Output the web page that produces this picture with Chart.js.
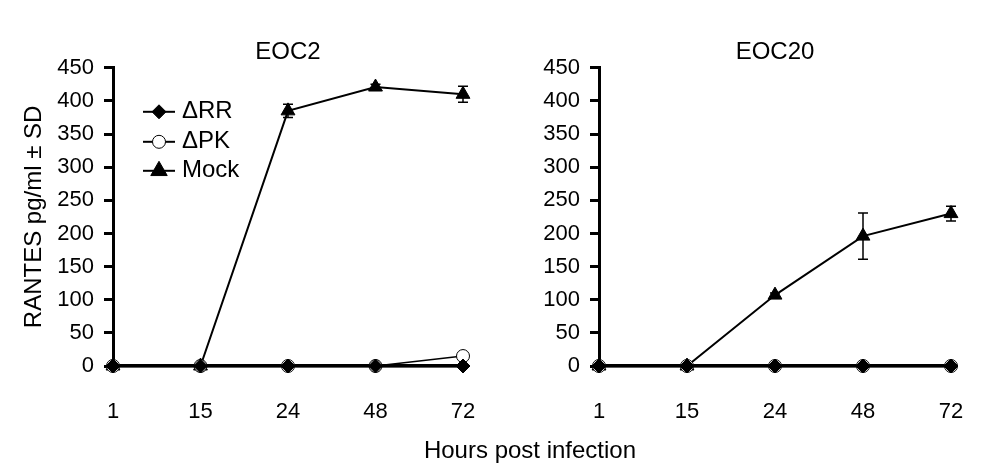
<!DOCTYPE html>
<html>
<head>
<meta charset="utf-8">
<script src="https://cdn.jsdelivr.net/npm/chart.js@4.4.0/dist/chart.umd.min.js"></script>
<style>
html,body{margin:0;padding:0;background:#fff;}
#wrap{position:relative;width:1008px;height:476px;overflow:hidden;background:#fff;}
.box{position:absolute;top:0;width:504px;height:476px;}
#xtitle{position:absolute;left:330px;width:400px;top:436px;height:28px;line-height:28px;text-align:center;
  font-family:"Liberation Sans",Arial,sans-serif;font-size:24px;color:#000;}
</style>
</head>
<body>
<div id="wrap">
  <div class="box" style="left:0"><canvas id="c1"></canvas></div>
  <div class="box" style="left:504px"><canvas id="c2"></canvas></div>
  <div id="xtitle">Hours post infection</div>
</div>
<script>
// ---- data ----
const hours = ['1', '15', '24', '48', '72'];
const yMin = 0, yMax = 450, yStep = 50;
const seriesNames = ['\u0394RR', '\u0394PK', 'Mock'];

const eoc2RR = [0, 0, 0, 0, 0];
const eoc2PK = [0, 0, 0, 0, 15];
const eoc2Mock = [0, 0, 385, 421, 410];
const eoc2MockSD = [0, 0, 10, 4, 12];

const eoc20RR = [0, 0, 0, 0, 0];
const eoc20PK = [0, 0, 0, 0, 0];
const eoc20Mock = [0, 0, 107, 196, 230];
const eoc20MockSD = [0, 0, 3, 35, 11];

Chart.defaults.font.family = '"Liberation Sans", Arial, sans-serif';
Chart.defaults.color = '#000';

const styles = [
  {pointStyle: 'rectRot', pointRadius: 7, pointBackgroundColor: '#000', borderWidth: 2.5},
  {pointStyle: 'circle', pointRadius: 6.5, pointBackgroundColor: '#fff', borderWidth: 1.5},
  {pointStyle: 'triangle', pointRadius: 8, pointBackgroundColor: '#000', borderWidth: 2}
];

function makeDatasets(rr, pk, mock, sd) {
  const vals = [rr, pk, mock];
  return vals.map((v, i) => Object.assign({
    label: seriesNames[i],
    data: v,
    borderColor: '#000',
    pointBorderColor: '#000',
    pointBorderWidth: 1,
    pointHoverRadius: styles[i].pointRadius,
    tension: 0,
    clip: false,
    errorBars: i === 2 ? sd : null
  }, styles[i]));
}

const errorBarPlugin = {
  id: 'errorBars',
  afterDatasetsDraw(chart) {
    const ctx = chart.ctx;
    const y = chart.scales.y;
    chart.data.datasets.forEach((ds, di) => {
      if (!ds.errorBars) return;
      const meta = chart.getDatasetMeta(di);
      meta.data.forEach((pt, i) => {
        const e = ds.errorBars[i];
        if (!e) return;
        const v = ds.data[i];
        const yt = y.getPixelForValue(v + e);
        const yb = y.getPixelForValue(v - e);
        ctx.save();
        ctx.strokeStyle = '#000';
        ctx.lineWidth = 1.5;
        ctx.beginPath();
        ctx.moveTo(pt.x, yt); ctx.lineTo(pt.x, yb);
        ctx.moveTo(pt.x - 5, yt); ctx.lineTo(pt.x + 5, yt);
        ctx.moveTo(pt.x - 5, yb); ctx.lineTo(pt.x + 5, yb);
        ctx.stroke();
        ctx.restore();
      });
    });
  }
};

const insideLegendPlugin = {
  id: 'insideLegend',
  afterDraw(chart, args, opts) {
    if (!opts || !opts.show) return;
    const ctx = chart.ctx;
    const ca = chart.chartArea;
    const x0 = ca.left + 30, lineW = 32;
    const rows = [44, 74, 103];
    chart.data.datasets.forEach((ds, i) => {
      const yy = ca.top + rows[i];
      ctx.save();
      ctx.strokeStyle = '#000';
      ctx.lineWidth = 2;
      ctx.beginPath();
      ctx.moveTo(x0, yy); ctx.lineTo(x0 + lineW, yy);
      ctx.stroke();
      ctx.fillStyle = ds.pointBackgroundColor;
      ctx.strokeStyle = '#000';
      ctx.lineWidth = 1;
      Chart.helpers.drawPoint(ctx, {pointStyle: ds.pointStyle, radius: i === 2 ? 9.5 : ds.pointRadius, rotation: 0, borderWidth: 1}, x0 + lineW / 2, yy);
      ctx.fillStyle = '#000';
      ctx.font = '24px "Liberation Sans", Arial, sans-serif';
      ctx.textBaseline = 'middle';
      ctx.textAlign = 'left';
      ctx.fillText(ds.label, x0 + lineW + 7, yy);
      ctx.restore();
    });
  }
};

function makeChart(id, title, datasets, yAxisW, padRight, showYTitle, showLegend) {
  return new Chart(document.getElementById(id), {
    type: 'line',
    data: {labels: hours, datasets: datasets},
    plugins: [errorBarPlugin, insideLegendPlugin],
    options: {
      responsive: true,
      maintainAspectRatio: false,
      animation: false,
      events: [],
      layout: {padding: {left: 0, right: padRight, top: 0, bottom: 0}},
      plugins: {
        legend: {display: false},
        tooltip: {enabled: false},
        title: {display: true, text: title, fullSize: false, color: '#000',
          font: {size: 24, weight: 'normal'}, padding: {top: 38, bottom: 1}},
        insideLegend: {show: showLegend}
      },
      scales: {
        x: {
          type: 'category',
          offset: false,
          grid: {display: false},
          border: {display: true, color: '#000', width: 3.5},
          ticks: {font: {size: 22}, color: '#000', padding: 25, maxRotation: 0, autoSkip: false},
          afterFit(s) { s.height = 110; }
        },
        y: {
          min: yMin, max: yMax,
          grid: {display: true, drawOnChartArea: false, drawTicks: true, tickLength: 9, color: '#000', lineWidth: 3},
          border: {display: true, color: '#000', width: 3},
          ticks: {stepSize: yStep, font: {size: 22}, color: '#000', padding: 10},
          title: {display: showYTitle, text: 'RANTES pg/ml \u00b1 SD', color: '#000',
            font: {size: 24}, padding: {top: 20, bottom: 0}},
          afterFit(s) { s.width = yAxisW; }
        }
      }
    }
  });
}

makeChart('c1', 'EOC2', makeDatasets(eoc2RR, eoc2PK, eoc2Mock, eoc2MockSD), 113, 41, true, true);
makeChart('c2', 'EOC20', makeDatasets(eoc20RR, eoc20PK, eoc20Mock, eoc20MockSD), 95, 57, false, false);
</script>
</body>
</html>
